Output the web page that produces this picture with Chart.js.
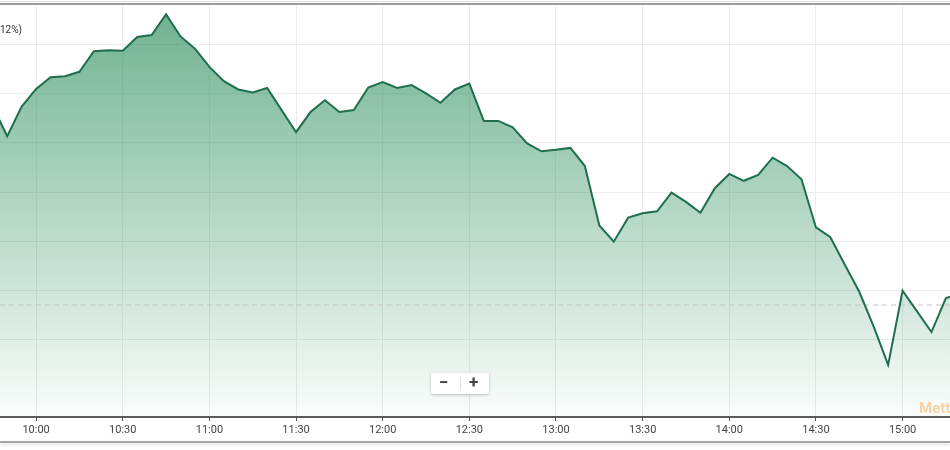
<!DOCTYPE html>
<html>
<head>
<meta charset="utf-8">
<script src="https://cdn.jsdelivr.net/npm/chart.js@4"></script>
<style>
  html, body { margin: 0; padding: 0; background: #fff; overflow: hidden; }
  #wrap { position: relative; width: 950px; height: 450px; overflow: hidden; font-family: Roboto, Arial, sans-serif; }
  #chartBox { position: absolute; left: 0; top: 0; width: 950px; height: 450px; }
  .topLine1 { position: absolute; left: 0; top: 1px; width: 950px; height: 1px; background: #dedede; }
  .topLine2 { position: absolute; left: 0; top: 3px; width: 950px; height: 2px; background: #9c9c9c; }
  .bottomLine { position: absolute; left: 0; top: 441px; width: 950px; height: 2px; background: #a5a5a5; box-shadow: 0 2px 3px rgba(0,0,0,0.12); }
  .pct { position: absolute; left: 0; top: 24px; font-size: 10px; color: #333; }
  .zoomBtns { position: absolute; left: 431px; top: 373px; width: 58px; height: 21px; background: #fff;
    border-radius: 2px; box-shadow: 0 1px 3px rgba(0,0,0,0.25); font-size: 17px; font-weight: bold; color: #444; }
  .zoomBtns span { position: absolute; top: -1px; }
  .zoomBtns .sep { position: absolute; left: 29px; top: 4px; width: 1px; height: 13px; background: #ddd; }
  .mark { position: absolute; left: 919px; top: 399px; font-size: 15px; font-weight: bold; color: #f6d3a0; }
</style>
</head>
<body>
<div id="wrap">
  <div id="chartBox"><canvas id="intradayChart"></canvas></div>
  <div class="topLine1"></div>
  <div class="topLine2"></div>
  <div class="bottomLine"></div>
  <div class="pct">12%)</div>
  <div class="zoomBtns"><span style="left:8px">−</span><div class="sep"></div><span style="left:38px">+</span></div>
  <div class="mark">Mett</div>
</div>
<script>
// intraday points, every 5 minutes
var times = [
  '09:45', '09:50', '09:55', '10:00', '10:05', '10:10', '10:15', '10:20', '10:25', '10:30',
  '10:35', '10:40', '10:45', '10:50', '10:55', '11:00', '11:05', '11:10', '11:15', '11:20',
  '11:25', '11:30', '11:35', '11:40', '11:45', '11:50', '11:55', '12:00', '12:05', '12:10',
  '12:15', '12:20', '12:25', '12:30', '12:35', '12:40', '12:45', '12:50', '12:55', '13:00',
  '13:05', '13:10', '13:15', '13:20', '13:25', '13:30', '13:35', '13:40', '13:45', '13:50',
  '13:55', '14:00', '14:05', '14:10', '14:15', '14:20', '14:25', '14:30', '14:35', '14:40',
  '14:45', '14:50', '14:55', '15:00', '15:05', '15:10', '15:15', '15:20',
]
var prices = [
  104.74, 104.14, 104.74, 105.10, 105.34, 105.36, 105.45, 105.87, 105.89, 105.88,
  106.16, 106.20, 106.62, 106.17, 105.92, 105.55, 105.26, 105.09, 105.03, 105.12,
  104.67, 104.22, 104.63, 104.87, 104.63, 104.67, 105.13, 105.24, 105.12, 105.18,
  105.01, 104.82, 105.09, 105.21, 104.45, 104.45, 104.32, 103.99, 103.83, 103.86,
  103.90, 103.53, 102.32, 101.99, 102.48, 102.57, 102.61, 102.99, 102.80, 102.58,
  103.08, 103.37, 103.23, 103.35, 103.70, 103.53, 103.26, 102.28, 102.08, 101.52,
  100.97, 100.26, 99.48, 100.99, 100.57, 100.15, 100.84, 100.93,
]
var prevClose = 100.70
var tickLabels = ['10:00', '10:30', '11:00', '11:30', '12:00', '12:30', '13:00', '13:30', '14:00', '14:30', '15:00']
var gridLevels = [100, 101, 102, 103, 104, 105, 106]
var xMin = '09:47:30'
var xMax = '15:16:25'

function toMinutes(t) {
  var p = t.split(':').map(Number)
  return p[0] * 60 + p[1] + (p[2] || 0) / 60
}

var points = times.map(function (t, i) { return { x: toMinutes(t), y: prices[i] } })
var minX = toMinutes(xMin)
var maxX = toMinutes(xMax)

var ctx = document.getElementById('intradayChart').getContext('2d')
var myChart = new Chart(ctx, {
  type: 'line',
  data: {
    datasets: [
      {
        label: 'Index',
        data: points,
        borderColor: '#1f6f4c',
        borderWidth: 2,
        pointRadius: 0,
        tension: 0,
        fill: 'start',
        backgroundColor: function (c) {
          var area = c.chart.chartArea
          if (!area) return 'rgba(46, 139, 87, 0.4)'
          var g = c.chart.ctx.createLinearGradient(0, area.top, 0, area.bottom)
          g.addColorStop(0, 'rgba(40, 140, 90, 0.68)')
          g.addColorStop(1, 'rgba(40, 140, 90, 0.02)')
          return g
        },
      },
      {
        label: 'Previous close',
        data: [{ x: minX, y: prevClose }, { x: maxX, y: prevClose }],
        borderColor: '#c4c4c4',
        borderWidth: 1,
        borderDash: [5, 4],
        pointRadius: 0,
        fill: false,
      },
    ],
  },
  options: {
    responsive: true,
    maintainAspectRatio: false,
    animation: false,
    layout: { padding: { top: 5, left: 0, right: 0, bottom: 0 } },
    plugins: {
      legend: { display: false },
      tooltip: { enabled: false },
      filler: { drawTime: 'beforeDatasetsDraw' },
    },
    scales: {
      x: {
        type: 'linear',
        min: minX,
        max: maxX,
        afterBuildTicks: function (s) {
          s.ticks = tickLabels.map(function (t) { return { value: toMinutes(t) } })
        },
        afterFit: function (s) { s.height = 33 },
        grid: { color: '#ececec', tickColor: '#555', tickLength: 4 },
        border: { display: true, color: '#5a5a5a', width: 2 },
        ticks: {
          autoSkip: false,
          maxRotation: 0,
          padding: 3,
          color: '#444',
          font: { family: 'Roboto', size: 11 },
          callback: function (v, i) { return tickLabels[i] },
        },
      },
      y: {
        min: 98.42,
        max: 106.81,
        afterBuildTicks: function (s) {
          s.ticks = gridLevels.map(function (v) { return { value: v } })
        },
        afterFit: function (s) { s.width = 0 },
        grid: { color: '#ececec', drawTicks: false },
        border: { display: false },
        ticks: { display: false },
      },
    },
  },
})
</script>
</body>
</html>
